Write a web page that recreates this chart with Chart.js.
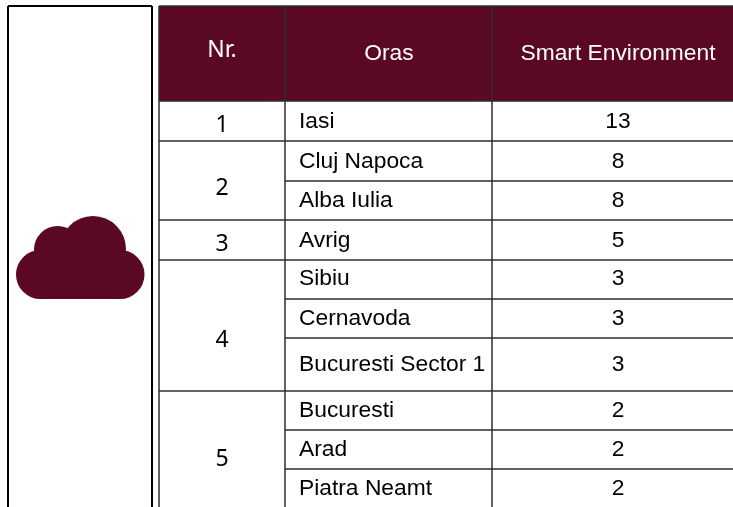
<!DOCTYPE html>
<html><head><meta charset="utf-8">
<style>html,body{margin:0;padding:0;background:#fff}canvas{display:block}</style>
<script src="https://cdn.jsdelivr.net/npm/chart.js@4/dist/chart.umd.min.js"></script>
</head><body><div style="width:733px;height:507px"><canvas id="c"></canvas></div>
<script>
const headers = ["Nr.", "Oras", "Smart Environment"];
const ranks = ["1", "2", "3", "4", "5"];
const cities = ["Iasi", "Cluj Napoca", "Alba Iulia", "Avrig", "Sibiu", "Cernavoda", "Bucuresti Sector 1", "Bucuresti", "Arad", "Piatra Neamt"];
const scores = [13, 8, 8, 5, 3, 3, 3, 2, 2, 2];

// layout, in the chart's own axis units
const colEdges = [159, 285, 492, 733];
const rowTextY = [122, 162, 201, 241, 279, 319, 365, 411, 450, 489];
const rankTextY = [125, 188, 244, 340, 459];
const rowRules = [141, 181, 220, 260, 299, 338, 391, 430, 469];
const cityOnlyRules = [181, 299, 338, 430, 469];
const headY = 53, tableTop = 6, headBottom = 101, tableBottom = 507;
const maroon = "#5b0922", ruleColor = "#2e2e2e";

function seg(x1, y1, x2, y2, color, w) {
  return {type:"line", data:[{x:x1,y:y1},{x:x2,y:y2}], borderColor:color, borderWidth:w, pointRadius:0, fill:false, tension:0};
}
const datasets = [];
rowRules.forEach(y => {
  const start = cityOnlyRules.includes(y) ? colEdges[1] : colEdges[0];
  datasets.push(seg(start, y, colEdges[3], y, ruleColor, 1.5));
});
datasets.push(seg(colEdges[0], tableTop, colEdges[3], tableTop, ruleColor, 1.5));
datasets.push(seg(colEdges[0], headBottom, colEdges[3], headBottom, ruleColor, 1.5));
colEdges.slice(0,3).forEach(x => datasets.push(seg(x, tableTop, x, tableBottom, ruleColor, 1.5)));
datasets.push(seg(8, 6, 152, 6, "#000", 2));
datasets.push(seg(8, 6, 8, 507, "#000", 2));
datasets.push(seg(152, 6, 152, 507, "#000", 2));

const tablePlugin = {
  id:"table",
  beforeDatasetsDraw(ch){
    const {ctx, scales:{x, y}} = ch;
    ctx.save();
    ctx.fillStyle = maroon;
    ctx.fillRect(x.getPixelForValue(colEdges[0]), y.getPixelForValue(tableTop), x.getPixelForValue(colEdges[3])-x.getPixelForValue(colEdges[0]), y.getPixelForValue(headBottom)-y.getPixelForValue(tableTop));
    // cloud icon
    ctx.beginPath();
    [[93,249,33],[57.5,249.5,23.5],[40.5,274.5,24.5],[120,274.5,24.5]].forEach(c=>{
      const px=x.getPixelForValue(c[0]), py=y.getPixelForValue(c[1]);
      ctx.moveTo(px+c[2],py); ctx.arc(px,py,c[2],0,Math.PI*2);
    });
    ctx.rect(x.getPixelForValue(40.5),y.getPixelForValue(245),79.5,54);
    ctx.fill("nonzero");
    ctx.restore();
  },
  afterDatasetsDraw(ch){
    const {ctx, scales:{x, y}} = ch;
    const put=(t,px,py,font,color,align)=>{
      ctx.font=font; ctx.fillStyle=color; ctx.textAlign=align; ctx.textBaseline="middle";
      ctx.fillText(t,x.getPixelForValue(px),y.getPixelForValue(py));
    };
    ctx.save();
    const arial="22.8px 'Liberation Sans'", noto="23px 'Noto Sans'";
    put(headers[0],222,headY-3,noto,"#fff","center");
    put(headers[1],389,headY+1,arial,"#fff","center");
    put(headers[2],618,headY+1,arial,"#fff","center");
    ranks.forEach((r,i)=>put(r,222,rankTextY[i],noto,"#000","center"));
    cities.forEach((c,i)=>put(c,299,rowTextY[i],arial,"#000","left"));
    scores.forEach((s,i)=>put(String(s),618,rowTextY[i],arial,"#000","center"));
    ctx.restore();
  }
};

new Chart(document.getElementById("c"), {
  type:"line",
  data:{datasets},
  options:{
    responsive:true, maintainAspectRatio:false, animation:false,
    layout:{padding:0},
    plugins:{legend:{display:false}, tooltip:{enabled:false}, title:{display:false}},
    scales:{
      x:{type:"linear", min:0, max:733, display:false},
      y:{type:"linear", min:0, max:507, reverse:true, display:false}
    }
  },
  plugins:[tablePlugin]
});
</script></body></html>
